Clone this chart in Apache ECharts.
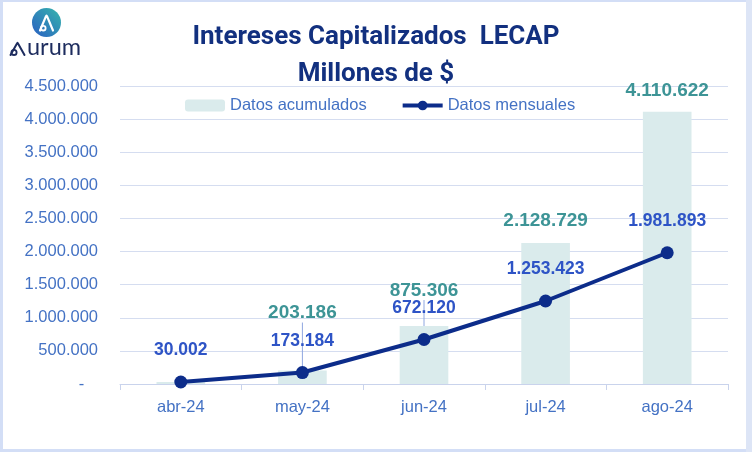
<!DOCTYPE html>
<html>
<head>
<meta charset="utf-8">
<script src="https://cdn.jsdelivr.net/npm/echarts@6/dist/echarts.min.js"></script>
<style>
  html, body { margin: 0; padding: 0; background: #ffffff; }
  #chart { width: 752px; height: 452px; }
</style>
</head>
<body>
<div id="chart"></div>
<script>
// ---- data ----
const categories = ['abr-24', 'may-24', 'jun-24', 'jul-24', 'ago-24'];
const acumulados = [30002, 203186, 875306, 2128729, 4110622];
const mensuales = [30002, 173184, 672120, 1253423, 1981893];
const yMin = 0;
const yMax = 4500000;
const yStep = 500000;
const titleLines = ['Intereses Capitalizados  LECAP', 'Millones de $'];
const seriesNames = ['Datos acumulados', 'Datos mensuales'];

// ---- styles (label placement, kept apart from data) ----
const barLabelShown = [false, true, true, true, true];
const barLabelLift = [0, 43, 21, 8, 7];
const barLeader = [false, true, true, false, false];

function fmt(n) {
  if (n === 0) return '-   ';
  return String(Math.round(n)).replace(/\B(?=(\d{3})+(?!\d))/g, '.');
}

const axisBlue = '#4472c4';
const gridColor = '#d5ddf0';
const lineColor = '#0c2c8a';

const chart = echarts.init(document.getElementById('chart'), null, { renderer: 'canvas' });

const barData = acumulados.map((v, i) => ({
  value: v,
  label: { show: barLabelShown[i] },
  labelLine: { show: barLeader[i] }
}));

chart.setOption({
  backgroundColor: '#ffffff',
  animation: false,
  title: {
    text: titleLines.join('\n'),
    left: 'center',
    top: 14,
    textStyle: {
      fontFamily: 'Roboto',
      fontWeight: 'bold',
      fontSize: 26,
      lineHeight: 37,
      color: '#12307f'
    }
  },
  legend: {
    data: [
      { name: seriesNames[0] },
      { name: seriesNames[1], lineStyle: { width: 4, color: lineColor }, itemStyle: { color: lineColor } }
    ],
    left: 180,
    top: 92,
    itemWidth: 40,
    itemHeight: 12,
    itemGap: 34,
    textStyle: { fontFamily: 'Liberation Sans', fontSize: 16.5, color: axisBlue }
  },
  grid: { left: 120, right: 24, top: 86, bottom: 68 },
  xAxis: {
    type: 'category',
    data: categories,
    boundaryGap: true,
    axisLine: { lineStyle: { color: '#c9d3ec', width: 1 } },
    axisTick: { show: true, length: 6, lineStyle: { color: '#c9d3ec' } },
    axisLabel: { margin: 15, fontFamily: 'Liberation Sans', fontSize: 16.5, color: axisBlue }
  },
  yAxis: {
    type: 'value',
    min: yMin,
    max: yMax,
    interval: yStep,
    axisLine: { show: false },
    axisTick: { show: false },
    splitLine: { lineStyle: { color: gridColor, width: 1 } },
    axisLabel: {
      margin: 22,
      fontFamily: 'Liberation Sans',
      fontSize: 16.5,
      color: axisBlue,
      formatter: fmt
    }
  },
  series: [
    {
      name: seriesNames[0],
      type: 'bar',
      data: barData,
      barWidth: '40%',
      itemStyle: { color: '#daebec' },
      z: 1,
      label: {
        show: true,
        position: 'top',
        distance: 5,
        fontFamily: 'Liberation Sans',
        fontWeight: 'bold',
        fontSize: 19,
        color: '#3d9496',
        formatter: (p) => fmt(p.value)
      },
      labelLine: {
        show: true,
        lineStyle: { color: '#8ea6e0', width: 1 }
      },
      labelLayout: (p) => ({ dy: -barLabelLift[p.dataIndex] })
    },
    {
      name: seriesNames[1],
      type: 'line',
      data: mensuales,
      symbol: 'circle',
      symbolSize: 13,
      lineStyle: { color: lineColor, width: 4 },
      itemStyle: { color: lineColor },
      z: 3,
      label: {
        show: true,
        position: 'top',
        distance: 16,
        fontFamily: 'Liberation Sans',
        fontWeight: 'bold',
        fontSize: 17.5,
        color: '#2e54c6',
        formatter: (p) => fmt(p.value)
      }
    }
  ],
  graphic: [
    // frame
    { type: 'rect', shape: { x: 0, y: 0, width: 752, height: 2 }, style: { fill: '#d3def6' }, silent: true },
    { type: 'rect', shape: { x: 0, y: 0, width: 3, height: 452 }, style: { fill: '#d3def6' }, silent: true },
    { type: 'rect', shape: { x: 0, y: 449, width: 752, height: 3 }, style: { fill: '#d3def6' }, silent: true },
    { type: 'rect', shape: { x: 746, y: 0, width: 6, height: 452 }, style: { fill: '#dde5f6' }, silent: true },
    // logo
    {
      type: 'circle',
      silent: true,
      shape: { cx: 46.5, cy: 22.5, r: 14.5 },
      style: {
        fill: new echarts.graphic.LinearGradient(0, 1, 1, 0, [
          { offset: 0, color: '#2a5fc2' },
          { offset: 1, color: '#36b6ad' }
        ])
      }
    },
    {
      type: 'polyline', silent: true,
      shape: { points: [[40, 30.5], [45.7, 16.8], [46.5, 15.6], [47.3, 16.8], [53, 30.5]] },
      style: { stroke: '#ffffff', fill: null, lineWidth: 2.2, lineCap: 'round', lineJoin: 'round' }
    },
    {
      type: 'circle', silent: true,
      shape: { cx: 43.3, cy: 28.2, r: 2.3 },
      style: { stroke: '#ffffff', fill: null, lineWidth: 1.8 }
    },
    {
      type: 'polyline', silent: true,
      shape: { points: [[10.5, 55], [16.7, 44], [17.5, 42.8], [18.3, 44], [24.5, 55]] },
      style: { stroke: '#1d2c5e', fill: null, lineWidth: 2, lineCap: 'round', lineJoin: 'round' }
    },
    {
      type: 'circle', silent: true,
      shape: { cx: 14, cy: 52.4, r: 2.6 },
      style: { stroke: '#1d2c5e', fill: null, lineWidth: 1.8 }
    },
    {
      type: 'text', silent: true,
      style: { x: 27, y: 59.5, text: 'urum', fontFamily: 'Lato', fontSize: 23.5, fill: '#1d2c5e', verticalAlign: 'bottom' }
    }
  ]
});
</script>
</body>
</html>
